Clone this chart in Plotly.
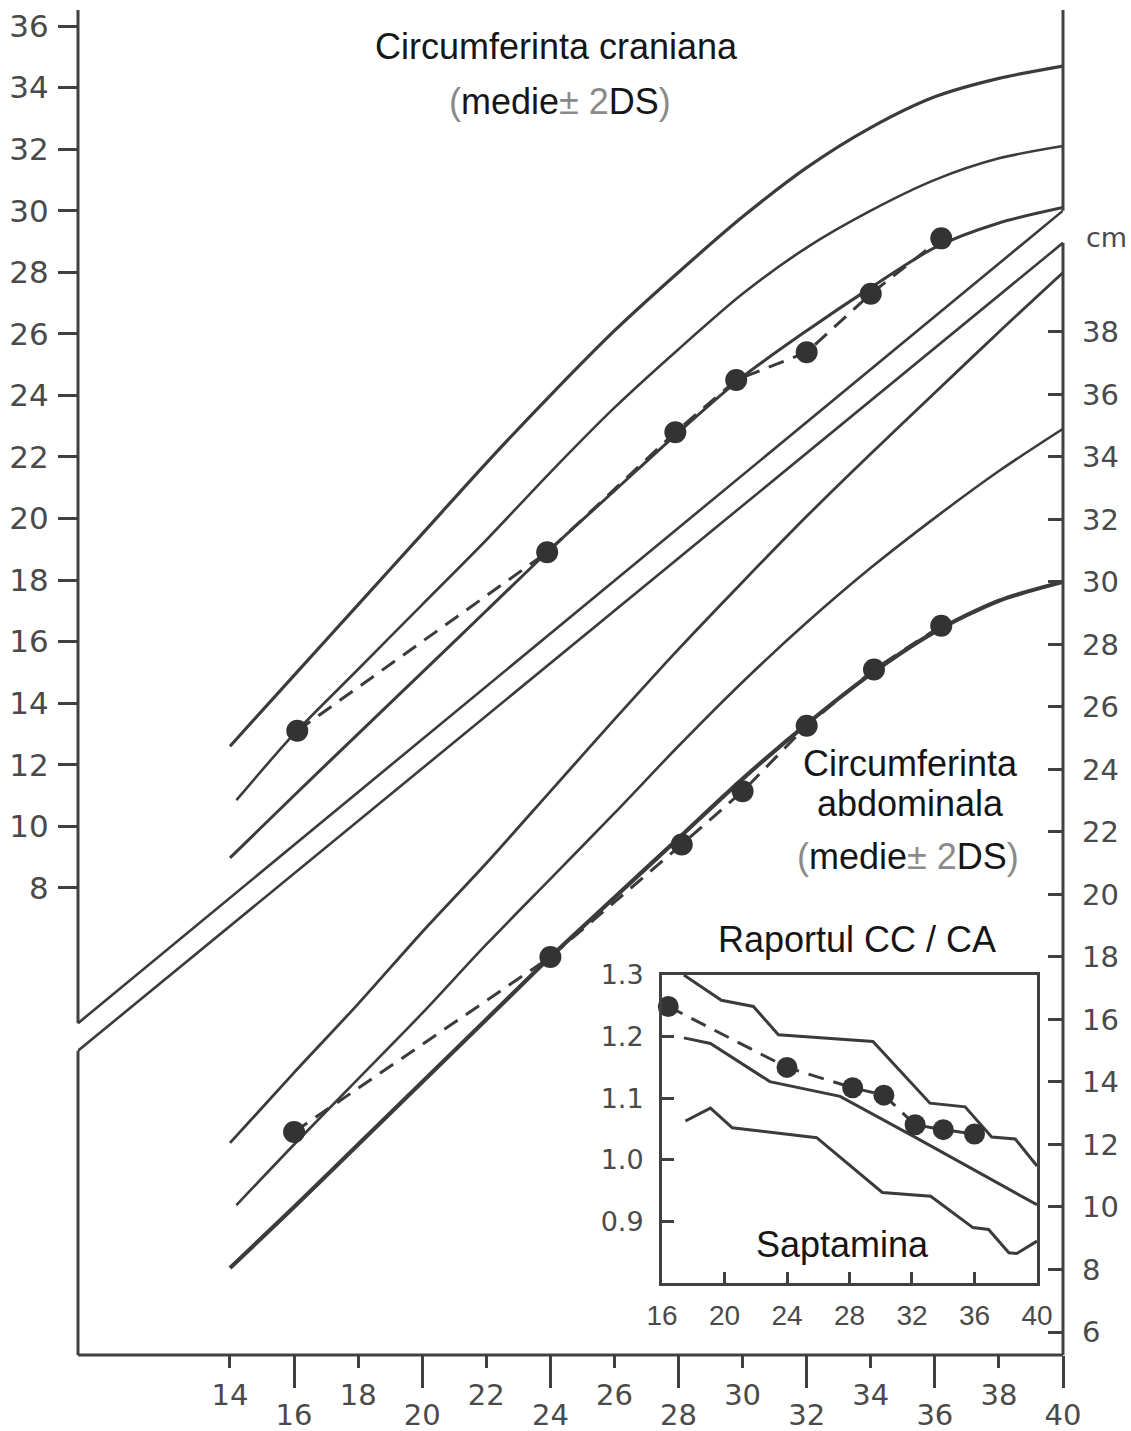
import plotly.graph_objects as go

# ---- main chart: gestational week on x ----
weeks = [14, 16, 18, 20, 22, 24, 26, 28, 30, 32, 34, 36, 38, 40]
weeks_mean = [14.2, 16, 18, 20, 22, 24, 26, 28, 30, 32, 34, 36, 38, 40]

# head circumference (left axis, cm): mean +/- 2 SD
hc_plus2 = [12.6, 14.9, 17.2, 19.5, 21.8, 24.0, 26.1, 28.0, 29.8, 31.4, 32.7, 33.7, 34.3, 34.7]
hc_mean = [10.85, 13.0, 15.1, 17.2, 19.3, 21.5, 23.6, 25.5, 27.3, 28.8, 30.0, 31.0, 31.7, 32.1]
hc_minus2 = [8.97, 11.0, 13.0, 15.0, 17.0, 19.0, 20.9, 22.8, 24.6, 26.1, 27.5, 28.8, 29.6, 30.1]

# abdominal circumference (right axis, cm): mean +/- 2 SD
ac_plus2 = [12.05, 14.3, 16.5, 18.8, 21.0, 23.3, 25.6, 27.85, 30.0, 32.1, 34.1, 36.05, 38.0, 39.9]
ac_mean = [10.06, 12.0, 14.1, 16.2, 18.4, 20.5, 22.6, 24.75, 26.8, 28.7, 30.45, 32.05, 33.55, 34.9]
ac_minus2 = [8.05, 10.0, 12.0, 14.0, 16.0, 18.0, 19.9, 21.8, 23.7, 25.45, 27.05, 28.4, 29.4, 30.0]

# serial measurements of one fetus
hc_weeks = [16.1, 23.9, 27.9, 29.8, 32.0, 34.0, 36.2]
hc_values = [13.1, 18.9, 22.8, 24.5, 25.4, 27.3, 29.1]
ac_weeks = [16.0, 24.0, 28.1, 30.0, 32.0, 34.1, 36.2]
ac_values = [12.4, 18.0, 21.6, 23.3, 25.4, 27.2, 28.6]

# axis ranges
X_RANGE = [9.256, 40]
YL_RANGE = [-7.18, 36.52]   # head circumference scale
YR_RANGE = [5.264, 48.30]   # abdominal circumference scale

# diagonal boundaries separating the two overlaid scales
frame_weeks = [X_RANGE[0], 40]
head_frame_cm = [3.6, 30.0]
abd_frame_cm = [15.0, 40.85]

# tick labels
left_ticks = list(range(8, 37, 2))
right_ticks = list(range(6, 39, 2))
x_long_ticks = [16, 20, 24, 28, 32, 36, 40]
x_short_ticks = [14, 18, 22, 26, 30, 34, 38]

# ---- inset: HC / AC ratio ----
upper_w = [17.4, 19.8, 21.85, 23.45, 29.5, 33.15, 35.4, 37.1, 38.6, 40.0]
upper_r = [1.300, 1.259, 1.249, 1.203, 1.192, 1.092, 1.086, 1.037, 1.034, 0.990]
mean_w = [17.4, 19.1, 22.9, 27.4, 32.1, 40.0]
mean_r = [1.198, 1.189, 1.127, 1.103, 1.038, 0.927]
lower_w = [17.5, 19.1, 20.5, 25.9, 30.1, 33.2, 35.9, 36.9, 38.2, 38.7, 40.0]
lower_r = [1.063, 1.084, 1.052, 1.036, 0.947, 0.941, 0.890, 0.887, 0.849, 0.848, 0.868]
ratio_w = [16.4, 24.0, 28.2, 30.2, 32.2, 34.0, 36.0]
ratio_r = [1.249, 1.150, 1.117, 1.105, 1.057, 1.049, 1.042]
inset_x_ticks = [16, 20, 24, 28, 32, 36, 40]
inset_y_ticks = [0.9, 1.0, 1.1, 1.2, 1.3]

LINE = '#3b3b3b'
AX = '#404040'
TICK = '#4a4a4a'
TEXT = '#161616'
SOFT = '#8a8a8a'
DASH = '16px,10px'

fig = go.Figure()


def curve(x, y, axis, width, xaxis='x'):
    fig.add_trace(go.Scatter(
        x=x, y=y, xaxis=xaxis, yaxis=axis, mode='lines',
        line=dict(color=LINE, width=width, shape='spline', smoothing=0.8),
        hoverinfo='skip', showlegend=False))


def measured(x, y, axis, xaxis='x', size=22):
    fig.add_trace(go.Scatter(
        x=x, y=y, xaxis=xaxis, yaxis=axis, mode='lines+markers',
        line=dict(color=LINE, width=3, dash=DASH),
        marker=dict(color='#333333', size=size),
        cliponaxis=False, hoverinfo='skip', showlegend=False))


# boundary lines (the first one also carries the short-tick week axis)
fig.add_trace(go.Scatter(x=frame_weeks, y=head_frame_cm, xaxis='x4', yaxis='y', mode='lines',
                         line=dict(color=LINE, width=2.6), hoverinfo='skip', showlegend=False))
fig.add_trace(go.Scatter(x=frame_weeks, y=abd_frame_cm, xaxis='x', yaxis='y2', mode='lines',
                         line=dict(color=LINE, width=2.6), hoverinfo='skip', showlegend=False))

# reference curves
curve(weeks, hc_plus2, 'y', 3.2)
curve(weeks_mean, hc_mean, 'y', 2.6)
curve(weeks, hc_minus2, 'y', 3.0)
curve(weeks, ac_plus2, 'y2', 2.8)
curve(weeks_mean, ac_mean, 'y2', 2.6)
curve(weeks, ac_minus2, 'y2', 4.2)

# measurements
measured(hc_weeks, hc_values, 'y')
measured(ac_weeks, ac_values, 'y2')

# inset curves
for wx, ry in [(upper_w, upper_r), (mean_w, mean_r), (lower_w, lower_r)]:
    fig.add_trace(go.Scatter(x=wx, y=ry, xaxis='x2', yaxis='y3', mode='lines',
                             line=dict(color=LINE, width=3), hoverinfo='skip', showlegend=False))
measured(ratio_w, ratio_r, 'y3', xaxis='x2', size=21)


def pl(v):
    return (v - YL_RANGE[0]) / (YL_RANGE[1] - YL_RANGE[0])


def pr(v):
    return (v - YR_RANGE[0]) / (YR_RANGE[1] - YR_RANGE[0])


frame_line = dict(color=AX, width=3)
shapes = [
    dict(type='line', xref='paper', yref='paper', x0=0, x1=0, y0=pl(head_frame_cm[0]), y1=1, line=frame_line),
    dict(type='line', xref='paper', yref='paper', x0=0, x1=0, y0=0, y1=pr(abd_frame_cm[0]), line=frame_line),
    dict(type='line', xref='paper', yref='paper', x0=1, x1=1, y0=pl(head_frame_cm[1]), y1=1, line=frame_line),
    dict(type='line', xref='paper', yref='paper', x0=1, x1=1, y0=0, y1=pr(abd_frame_cm[1]), line=frame_line),
    dict(type='line', xref='paper', yref='paper', x0=0, x1=1, y0=0, y1=0, line=frame_line),
]

left_font = dict(family='DejaVu Sans', size=31, color=TICK)
right_font = dict(family='DejaVu Sans', size=29, color=TICK)
week_font = dict(family='DejaVu Sans', size=29, color=TICK)
inset_week_font = dict(family='Liberation Sans', size=28, color=TICK)
ratio_font = dict(family='DejaVu Sans', size=27, color=TICK)
title_font = dict(family='Liberation Sans', size=36, color=TEXT)
mid = ("<span style='color:%s'>(</span>medie<span style='color:%s'>&#177; 2</span>DS"
       "<span style='color:%s'>)</span>") % (SOFT, SOFT, SOFT)

annotations = [
    dict(text='Circumferinta craniana', x=0.4853, y=0.9732),
    dict(text=mid, x=0.4893, y=0.9323),
    dict(text='Circumferinta', x=0.8447, y=0.4401),
    dict(text='abdominala', x=0.8447, y=0.4104),
    dict(text=mid, x=0.8426, y=0.3710),
    dict(text='Raportul CC / CA', x=0.7909, y=0.3086),
    dict(text='Saptamina', x=0.7766, y=0.0818),
]
for a in annotations:
    a.update(xref='paper', yref='paper', showarrow=False, font=title_font,
             xanchor='center', yanchor='middle')
annotations.append(dict(text='cm', x=1.0437, y=0.8305, xref='paper', yref='paper',
                        showarrow=False, xanchor='center', yanchor='middle',
                        font=dict(family='DejaVu Sans', size=27, color=TICK)))

common = dict(showgrid=False, zeroline=False, showline=False, tickwidth=3, tickcolor=AX,
              fixedrange=True, automargin=False)
inset_common = dict(showline=True, mirror=True, linewidth=3, linecolor=AX,
                    showgrid=False, zeroline=False, tickwidth=3, tickcolor=AX,
                    fixedrange=True, automargin=False)

fig.update_layout(
    width=1131, height=1431, autosize=False,
    margin=dict(l=78, r=68, t=10, b=76, autoexpand=False),
    paper_bgcolor='white', plot_bgcolor='white', showlegend=False,
    xaxis=dict(range=X_RANGE, tickvals=x_long_ticks, ticktext=[str(v) for v in x_long_ticks],
               ticks='outside', ticklen=32, ticklabelstandoff=2, tickfont=week_font, **common),
    xaxis4=dict(overlaying='x', anchor='y', side='bottom', range=X_RANGE,
                tickvals=x_short_ticks, ticktext=[str(v) for v in x_short_ticks],
                ticks='outside', ticklen=12, ticklabelstandoff=2, tickfont=week_font, **common),
    yaxis=dict(range=YL_RANGE, tickvals=left_ticks, ticktext=[str(v) for v in left_ticks],
               ticks='outside', ticklen=19, ticklabelstandoff=3, tickfont=left_font, **common),
    yaxis2=dict(overlaying='y', side='right', anchor='x', range=YR_RANGE,
                tickvals=right_ticks, ticktext=[str(v) for v in right_ticks],
                ticks='inside', ticklen=15, ticklabelstandoff=18, tickfont=right_font, **common),
    xaxis2=dict(domain=[0.5929, 0.9736], anchor='y3', range=[16, 40],
                tickvals=inset_x_ticks, ticktext=[str(v) for v in inset_x_ticks],
                ticks='inside', ticklen=11, ticklabelstandoff=5, tickfont=inset_week_font, **inset_common),
    yaxis3=dict(domain=[0.0535, 0.2825], anchor='x2', range=[0.8, 1.3],
                tickvals=inset_y_ticks, ticktext=['%.1f' % v for v in inset_y_ticks],
                ticks='inside', ticklen=12, ticklabelstandoff=10, tickfont=ratio_font, **inset_common),
    shapes=shapes,
    annotations=annotations,
)

fig.write_html('out.html')
